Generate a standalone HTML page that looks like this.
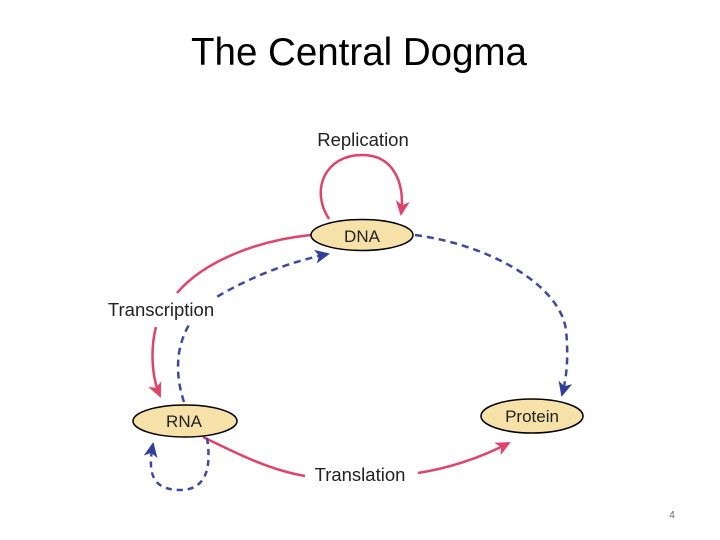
<!DOCTYPE html>
<html><head><style>
body{margin:0;width:720px;height:540px;background:#fff;overflow:hidden}
svg{display:block}
</style></head><body>
<svg width="720" height="540" viewBox="0 0 720 540" xmlns="http://www.w3.org/2000/svg">
<defs>
<marker id="r" markerWidth="16" markerHeight="14" refX="13" refY="7" orient="auto" markerUnits="userSpaceOnUse"><path d="M0,0 L15,7 L0,14 L4,7 Z" fill="#e0436a"/></marker>
<marker id="b" markerWidth="16" markerHeight="14" refX="13" refY="7" orient="auto" markerUnits="userSpaceOnUse"><path d="M0,0 L15,7 L0,14 L4,7 Z" fill="#2f3f9a"/></marker>
</defs>
<text x="359" y="65" text-anchor="middle" font-family="Liberation Sans, sans-serif" font-size="38.5" fill="#000">The Central Dogma</text>
<g fill="none" stroke-width="2.5">
<path d="M329,219 C310,190 325,155 362,155 C395,155 405,185 401,214" stroke="#e0436a" marker-end="url(#r)"/>
<path d="M311,235 C260,240 205,260 177,293" stroke="#e0436a"/>
<path d="M156,327 C150,350 152,378 160,396" stroke="#e0436a" marker-end="url(#r)"/>
<path d="M184,402 C170,360 180,318 220,295 C255,275 290,262 328,254" stroke="#3b4a9e" stroke-dasharray="7,5" marker-end="url(#b)"/>
<path d="M415,235 C490,245 560,285 566,330 C569,360 566,380 562,395" stroke="#3b4a9e" stroke-dasharray="7,5" marker-end="url(#b)"/>
<path d="M203,437 C240,455 270,470 305,476" stroke="#e0436a"/>
<path d="M418,473 C450,468 480,458 509,443" stroke="#e0436a" marker-end="url(#r)"/>
<path d="M207,438 C212,470 205,490 180,490 C150,490 148,470 153,444" stroke="#3b4a9e" stroke-dasharray="6,5" marker-end="url(#b)"/>
</g>
<rect x="104" y="298" width="116" height="26" fill="#fff"/>
<g fill="#f6e2a8" stroke="#000" stroke-width="1.5">
<ellipse cx="362" cy="235" rx="51" ry="15.5"/>
<ellipse cx="185" cy="421" rx="52" ry="16"/>
<ellipse cx="532" cy="416" rx="51" ry="17"/>
</g>
<g font-family="Liberation Sans, sans-serif" fill="#222" text-anchor="middle">
<text x="362" y="242" font-size="17">DNA</text>
<text x="184" y="427" font-size="17">RNA</text>
<text x="532" y="422" font-size="17">Protein</text>
<text x="363" y="146" font-size="18.5">Replication</text>
<text x="161" y="316" font-size="18.5">Transcription</text>
<text x="360" y="481" font-size="18.5">Translation</text>
</g>
<text x="672" y="518" text-anchor="middle" font-family="Liberation Sans, sans-serif" font-size="10" fill="#666">4</text>
</svg>
</body></html>
